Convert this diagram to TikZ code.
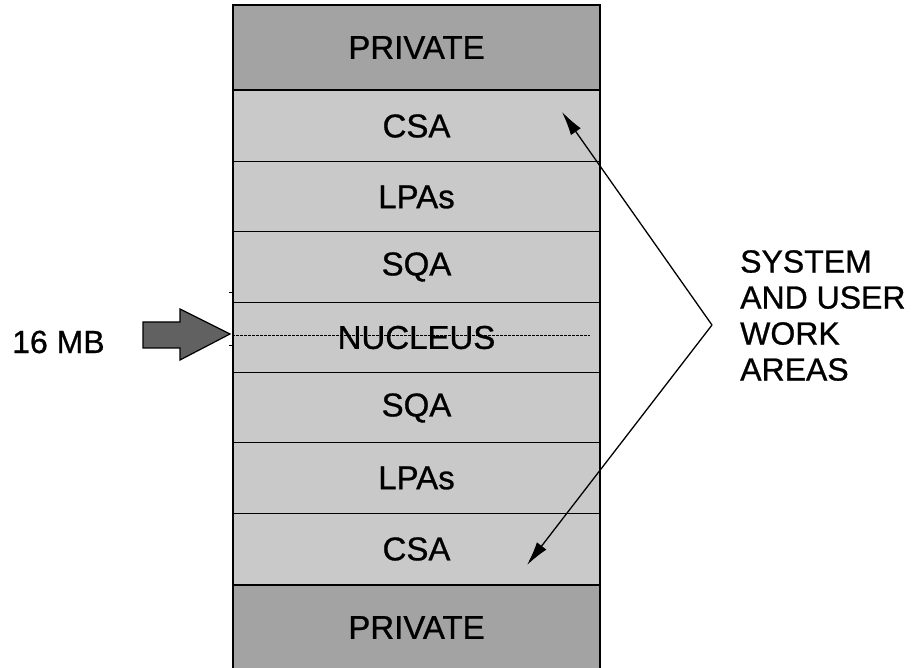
\documentclass[tikz,border=0pt]{standalone}
\usepackage{fontspec}
\setmainfont{Liberation Sans}[FakeBold=0.8,AutoFakeBold=0.8]
\newfontfamily\heavy{Liberation Sans}[FakeBold=0.8]
\usetikzlibrary{arrows.meta}
\begin{document}
\begin{tikzpicture}[x=1pt,y=-1pt,
  rowbox/.style={draw=black,line width=1.3pt,minimum width=367pt,inner sep=0pt,font=\heavy\fontsize{33}{33}\selectfont,text=black},
  privbox/.style={rowbox,fill=black!36,minimum height=85pt},
  workbox/.style={rowbox,fill=black!21,minimum height=70.5pt},
  pointer/.style={line width=1.3pt,-{Latex[length=24pt,width=12pt]}},
  lbl/.style={font=\heavy\fontsize{32}{36}\selectfont,inner sep=0pt}]
\useasboundingbox (0,0) rectangle (914,668);
\node[privbox] (p1) at (416.5,47.5) {PRIVATE};
\node[workbox] (c1) at (416.5,126) {CSA};
\node[workbox] (l1) at (416.5,197) {LPAs};
\node[workbox] (s1) at (416.5,267) {SQA};
\node[workbox] (n) at (416.5,337.5) {NUCLEUS};
\node[workbox] (s2) at (416.5,408) {SQA};
\node[workbox] (l2) at (416.5,478) {LPAs};
\node[workbox] (c2) at (416.5,549) {CSA};
\node[privbox] (p2) at (416.5,627.5) {PRIVATE};
% 16 MB boundary line
\draw[line width=0.8pt,dash pattern=on 3pt off 1pt] (n.west |- 0,335) -- (590,335);
\draw[line width=0.8pt] (229,292) -- (n.west |- 0,292);
\draw[line width=0.8pt] (229,345) -- (n.west |- 0,345);
% label and big arrow
\node[lbl,anchor=west] (mb) at (12,342) {16 MB};
\draw[line width=1.2pt,fill=black!62] (143,322) -- (180,322) -- (180,309) -- (230,334) -- (180,360) -- (180,348) -- (143,348) -- cycle;
% right label
\node[lbl,anchor=north west,align=left] (sys) at (740,250) {SYSTEM\\AND USER\\WORK\\AREAS};
\coordinate (v) at (712,325);
\coordinate (t1) at (562,112);
\coordinate (t2) at (527,565);
\draw[pointer] (v) -- (t1);
\draw[pointer] (v) -- (t2);
\end{tikzpicture}
\end{document}
